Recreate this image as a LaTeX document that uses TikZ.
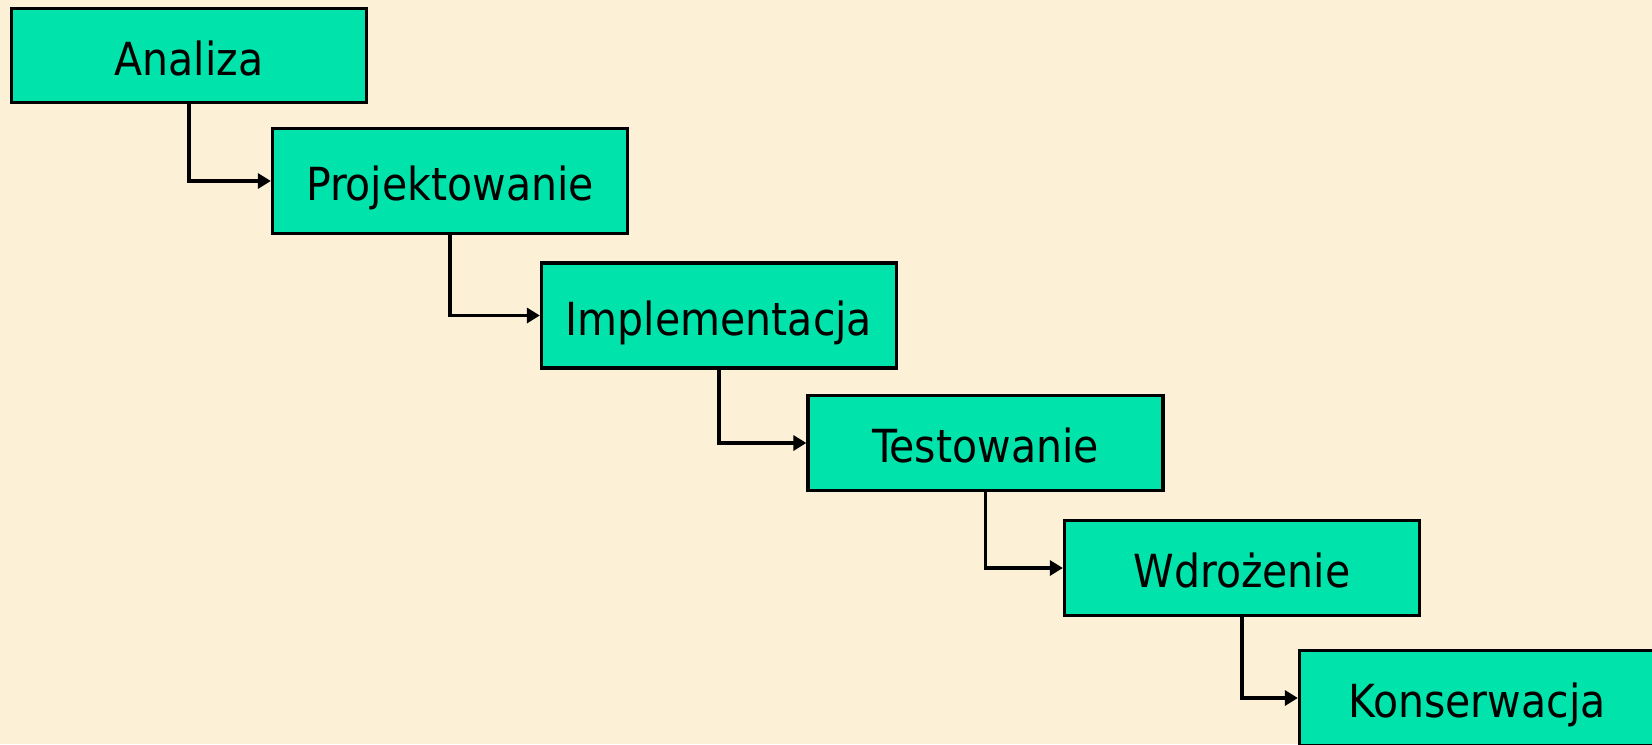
\documentclass[tikz,border=0pt]{standalone}
\usepackage{fontspec}
\setmainfont{DejaVu Sans Condensed}
\usetikzlibrary{arrows.meta, positioning}
\definecolor{paper}{RGB}{252,240,214}
\definecolor{mint}{RGB}{0,227,170}

\begin{document}
\begin{tikzpicture}[x=0.5pt, y=-0.5pt, >={Triangle[length=6.5pt, width=7.5pt]}, line width=1.65pt, minimum width=177.5pt, minimum height=47pt, inner sep=0pt, text height=21.5pt, text depth=2pt, font=\fontsize{22.8}{27}\selectfont]

        \fill[paper] (0,0) rectangle (1652,744);
        \useasboundingbox (0,0) rectangle (1652,744);

        \node[rectangle, draw, fill=mint] (A) at (189,55.5) {Analiza};
        \node[rectangle, draw, fill=mint, minimum height=52.5pt] (B) at (450,181) {Projektowanie};
        \node[rectangle, draw, fill=mint, minimum height=52.5pt] (C) at (719,315.5) {Implementacja};
        \node[rectangle, draw, fill=mint, minimum height=47.5pt] (D) at (985.5,443) {Testowanie};
        \node[rectangle, draw, fill=mint, minimum height=47.5pt] (E) at (1242,568) {Wdrożenie};
        \node[rectangle, draw, fill=mint, minimum height=47.5pt] (F) at (1477,698) {Konserwacja};

        \draw[->] (A.south) |- (B.west);
        \draw[->] (B.south) |- (C.west);
        \draw[->] (C.south) |- (D.west);
        \draw[->] (D.south) |- (E.west);
        \draw[->] (E.south) |- (F.west);

    \end{tikzpicture}
\end{document}
